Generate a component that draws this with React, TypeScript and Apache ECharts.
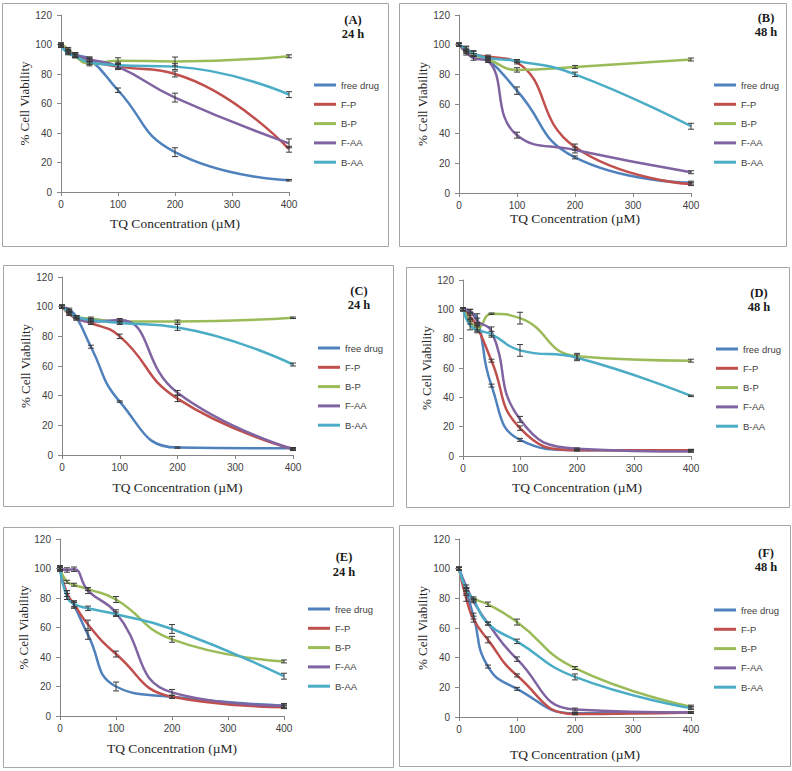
import React, { useEffect, useRef } from "react";
import * as echarts from "echarts";

// ---------------- data ----------------
const concentrations = [0, 12.5, 25, 50, 100, 200, 400];
const seriesNames = ["free drug", "F-P", "B-P", "F-AA", "B-AA"];
const seriesColors = ["#4F81BD", "#C0504D", "#9BBB59", "#8064A2", "#4BACC6"];
const panelLetters = ["(A)", "(B)", "(C)", "(D)", "(E)", "(F)"];
const panelTimes = ["24 h", "48 h", "24 h", "48 h", "24 h", "48 h"];
const xAxisTitle = "TQ Concentration (\u00B5M)";
const yAxisTitle = "% Cell Viability";

// rows: free drug, F-P, B-P, F-AA, B-AA
const viabilityA = [
  [100, 95, 93, 90, 69, 27, 8],
  [100, 96, 93, 89, 85, 80, 29],
  [100, 97, 92, 87, 89, 88.5, 92],
  [99, 95, 93, 90, 85, 64, 33],
  [99, 94, 92, 88, 86, 85, 66],
];
const errorA = [
  [1, 1.5, 1.5, 1.5, 1.5, 3, 0.5],
  [1, 1, 1.5, 1.5, 1.5, 2, 2],
  [1, 1, 1, 1.5, 2, 3, 1],
  [1, 1, 1, 1.5, 2, 3, 3],
  [1, 1, 1, 1.5, 2, 2, 2],
];
const viabilityB = [
  [100, 97, 94, 90, 69, 24, 7],
  [100, 96, 93, 92, 88, 31, 6],
  [100, 95, 93, 90, 83, 85, 90],
  [100, 95, 91, 89, 39, 29, 14],
  [100, 97, 94, 91, 89, 80, 45],
];
const errorB = [
  [1, 2, 2, 1, 2.5, 1, 1],
  [1, 1, 1, 1, 1, 2, 1],
  [1, 1, 1, 1, 1.5, 1, 1],
  [1, 2, 1.5, 1, 2, 2, 1],
  [1, 1.5, 1.5, 1, 1, 1.5, 2],
];
const viabilityC = [
  [100, 98, 93, 73, 36, 5, 4.5],
  [100, 95, 92, 89, 80, 38, 4],
  [100, 96, 93, 92, 90, 90, 92.5],
  [100, 97, 92, 90, 91, 42, 4],
  [100, 96, 93, 91, 89, 86, 61],
];
const errorC = [
  [1, 1, 1, 1, 0.5, 0.5, 0.5],
  [1, 1, 1, 1, 1.5, 2, 1],
  [1, 1, 1, 1, 1, 1, 0.5],
  [1, 1, 1, 1, 1, 1.5, 0.5],
  [1, 1, 1, 1, 1, 2, 1],
];
const viabilityD = [
  [100, 98, 94, 48, 11, 4, 4],
  [100, 95, 88, 65, 19, 4, 4],
  [100, 92, 87, 97, 94, 68, 65],
  [100, 99, 92, 85, 25, 5, 3],
  [100, 89, 86, 83, 72, 67, 41],
];
const errorD = [
  [1, 2, 3, 1, 1, 0.5, 0.5],
  [1, 2, 2, 1, 1.5, 0.5, 0.5],
  [1, 2, 2, 0.5, 4, 2, 1],
  [1, 1, 2, 3, 2, 0.5, 0.5],
  [1, 3, 2, 2, 4, 2, 0.5],
];
const viabilityE = [
  [100, 82, 75, 55, 20, 13, 7],
  [100, 83, 76, 62, 42, 13, 6],
  [100, 91, 89, 86, 79, 52, 37],
  [100, 99, 99.5, 85, 70, 16, 7],
  [100, 81, 76, 73, 69, 59, 27],
];
const errorE = [
  [2, 3, 2, 3, 3, 1, 1.5],
  [1, 2, 2, 3, 2, 1, 1],
  [1, 1, 1, 1, 2, 2, 1],
  [1, 1.5, 1.5, 2, 2, 2, 1],
  [1, 2, 2, 1.5, 1.5, 3, 2],
];
const viabilityF = [
  [100, 85, 68, 34, 19, 2.5, 3],
  [100, 80, 66, 52, 28, 2, 3],
  [100, 86, 80, 76, 64, 33, 7],
  [100, 88, 78, 63, 39, 5, 3],
  [100, 86, 79, 63, 51, 27, 6],
];
const errorF = [
  [1, 2, 2, 1, 1, 0.5, 0.5],
  [1, 2, 2, 2, 1, 0.5, 0.5],
  [1, 1, 1, 1.5, 2, 1, 1],
  [1, 1, 1, 1, 1.5, 1, 0.5],
  [1, 1, 1, 1, 1.5, 2, 1],
];

const panelValues = [viabilityA, viabilityB, viabilityC, viabilityD, viabilityE, viabilityF];
const panelErrors = [errorA, errorB, errorC, errorD, errorE, errorF];

// ---------------- layout ----------------
const layouts = [
  { box: [2, 3, 386, 243], grid: [61, 15, 228, 177], legend: [314, 85], title: [353, 20, 34], xGap: 24 },
  { box: [399, 3, 387, 243], grid: [459, 15, 232, 178], legend: [714, 85], title: [766, 18, 32], xGap: 18 },
  { box: [3, 265, 390, 241], grid: [62, 277, 231, 178], legend: [318, 348], title: [359, 291, 305], xGap: 25 },
  { box: [406, 267, 383, 240], grid: [463, 280, 228, 176], legend: [716, 349], title: [759, 293, 307], xGap: 24 },
  { box: [3, 527, 390, 240], grid: [60, 539, 224, 177], legend: [308, 609], title: [344, 557, 572], xGap: 25 },
  { box: [399, 525, 391, 241], grid: [459, 539, 232, 178], legend: [714, 610], title: [766, 553, 567], xGap: 30 },
];

const SERIF = "'Liberation Serif', 'Times New Roman', serif";
const SANS = "'Liberation Sans', Arial, sans-serif";

function buildOption() {
  const grid: any[] = [];
  const xAxis: any[] = [];
  const yAxis: any[] = [];
  const legend: any[] = [];
  const series: any[] = [];
  const graphic: any[] = [];

  layouts.forEach((L, p) => {
    grid.push({ left: L.grid[0], top: L.grid[1], width: L.grid[2], height: L.grid[3], containLabel: false });
    xAxis.push({
      type: "value",
      gridIndex: p,
      min: 0,
      max: 400,
      interval: 100,
      name: xAxisTitle,
      nameLocation: "middle",
      nameGap: L.xGap,
      nameTextStyle: { fontFamily: SERIF, fontSize: 13.5, color: "#262626" },
      axisLine: { show: true, lineStyle: { color: "#868686", width: 1 } },
      axisTick: { show: true, length: 4, lineStyle: { color: "#868686" } },
      axisLabel: { fontFamily: SANS, fontSize: 10, color: "#404040", margin: 7 },
      splitLine: { show: false },
    });
    yAxis.push({
      type: "value",
      gridIndex: p,
      min: 0,
      max: 120,
      interval: 20,
      name: yAxisTitle,
      nameLocation: "middle",
      nameGap: 30,
      nameTextStyle: { fontFamily: SERIF, fontSize: 13, color: "#262626" },
      axisLine: { show: true, lineStyle: { color: "#868686", width: 1 } },
      axisTick: { show: true, length: 4, lineStyle: { color: "#868686" } },
      axisLabel: { fontFamily: SANS, fontSize: 10, color: "#404040", margin: 9 },
      splitLine: { show: false },
    });
    legend.push({
      data: seriesNames,
      orient: "vertical",
      left: L.legend[0],
      top: L.legend[1] - 6,
      icon: "rect",
      itemWidth: 22,
      itemHeight: 3,
      itemGap: 7.3,
      padding: 0,
      selectedMode: false,
      textStyle: { fontFamily: SANS, fontSize: 9.5, color: "#404040", lineHeight: 12 },
    });

    const vals = panelValues[p];
    const errs = panelErrors[p];
    vals.forEach((row, s) => {
      series.push({
        type: "line",
        name: seriesNames[s],
        xAxisIndex: p,
        yAxisIndex: p,
        data: concentrations.map((c, i) => [c, row[i]]),
        smooth: 0.5,
        showSymbol: false,
        symbol: "none",
        lineStyle: { width: 2.5, color: seriesColors[s] },
        itemStyle: { color: seriesColors[s] },
        color: seriesColors[s],
        z: 2,
      });
    });
    const errData: number[][] = [];
    vals.forEach((row, s) => {
      row.forEach((v, i) => {
        if (errs[s][i] > 0) errData.push([concentrations[i], v, errs[s][i]]);
      });
    });
    series.push({
      type: "custom",
      name: "error-" + p,
      xAxisIndex: p,
      yAxisIndex: p,
      data: errData,
      encode: { x: 0, y: 1 },
      z: 5,
      renderItem: (params: any, api: any) => {
        const x = api.value(0);
        const y = api.value(1);
        const e = api.value(2);
        const hi = api.coord([x, y + e]);
        const lo = api.coord([x, y - e]);
        const half = 3;
        const st = { stroke: "#3a3a3a", lineWidth: 1 };
        return {
          type: "group",
          children: [
            { type: "line", shape: { x1: hi[0], y1: hi[1], x2: lo[0], y2: lo[1] }, style: st },
            { type: "line", shape: { x1: hi[0] - half, y1: hi[1], x2: hi[0] + half, y2: hi[1] }, style: st },
            { type: "line", shape: { x1: lo[0] - half, y1: lo[1], x2: lo[0] + half, y2: lo[1] }, style: st },
          ],
        };
      },
    });

    graphic.push({
      type: "rect",
      shape: { x: L.box[0] + 0.5, y: L.box[1] + 0.5, width: L.box[2], height: L.box[3] },
      style: { fill: "none", stroke: "#a6a6a6", lineWidth: 1 },
      silent: true,
      z: 0,
    });
    graphic.push({
      type: "text",
      x: L.title[0],
      y: L.title[1],
      style: {
        text: panelLetters[p],
        fontFamily: SERIF,
        fontWeight: "bold",
        fontSize: 12.5,
        fill: "#1a1a1a",
        align: "center",
        verticalAlign: "middle",
      },
    });
    graphic.push({
      type: "text",
      x: L.title[0],
      y: L.title[2],
      style: {
        text: panelTimes[p],
        fontFamily: SERIF,
        fontWeight: "bold",
        fontSize: 12.5,
        fill: "#1a1a1a",
        align: "center",
        verticalAlign: "middle",
      },
    });
  });

  return {
    animation: false,
    backgroundColor: "#ffffff",
    color: seriesColors,
    grid,
    xAxis,
    yAxis,
    legend,
    series,
    graphic,
  };
}

export default function App() {
  const ref = useRef<HTMLDivElement>(null);
  useEffect(() => {
    if (!ref.current) return;
    const chart = echarts.init(ref.current, undefined, { renderer: "svg" });
    chart.setOption(buildOption() as any);
    return () => chart.dispose();
  }, []);
  return (
    <div
      ref={ref}
      style={{ position: "absolute", left: 0, top: 0, width: 792, height: 771, background: "#fff" }}
    />
  );
}
